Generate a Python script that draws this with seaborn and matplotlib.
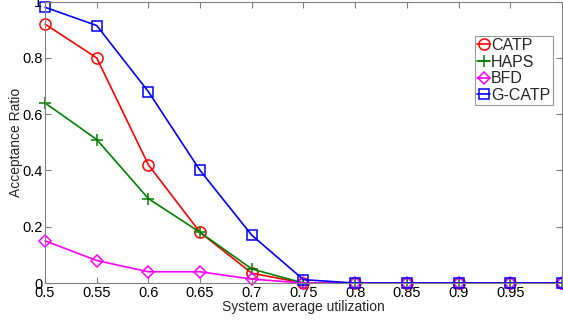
import matplotlib
matplotlib.use("Agg")
import matplotlib.pyplot as plt
import seaborn as sns
import pandas as pd

utilization = [0.5, 0.55, 0.6, 0.65, 0.7, 0.75, 0.8, 0.85, 0.9, 0.95, 1.0]
catp = [0.92, 0.80, 0.42, 0.18, 0.035, 0.0, 0.0, 0.0, 0.0, 0.0, 0.0]
haps = [0.64, 0.51, 0.30, 0.18, 0.05, 0.0, 0.0, 0.0, 0.0, 0.0, 0.0]
bfd = [0.15, 0.08, 0.04, 0.04, 0.014, 0.0, 0.0, 0.0, 0.0, 0.0, 0.0]
gcatp = [0.98, 0.915, 0.68, 0.40, 0.17, 0.012, 0.0, 0.0, 0.0, 0.0, 0.0]
x_ticks = [0.5, 0.55, 0.6, 0.65, 0.7, 0.75, 0.8, 0.85, 0.9, 0.95]
y_ticks = [0, 0.2, 0.4, 0.6, 0.8, 1]

sns.set_theme(style="white")
plt.rcParams["font.family"] = ["Liberation Sans", "DejaVu Sans"]

fig = plt.figure(figsize=(5.63, 3.22), dpi=100)
ax = fig.add_axes([0.08, 0.121, 0.918, 0.874])

series = [
    ("CATP", catp, (1, 0, 0), "o", 8),
    ("HAPS", haps, (0, 0.5, 0), "+", 9),
    ("BFD", bfd, (1, 0, 1), "D", 6.5),
    ("G-CATP", gcatp, (0, 0, 1), "s", 7.5),
]

for name, vals, color, marker, ms in series:
    df = pd.DataFrame({"u": utilization, "r": vals})
    sns.lineplot(data=df, x="u", y="r", ax=ax, color=color, marker=marker,
                 markersize=ms, markerfacecolor="none", markeredgecolor=color,
                 markeredgewidth=1.1, linewidth=1.2, label=name, clip_on=False)

ax.set_xlim(0.5, 1.0)
ax.set_ylim(0, 1.0)
ax.set_xticks(x_ticks)
ax.set_xticklabels([f"{t:g}" for t in x_ticks])
ax.set_yticks(y_ticks)
ax.set_yticklabels([f"{t:g}" for t in y_ticks])
ax.tick_params(direction="in", length=4, width=0.8, color="#808080",
               labelsize=10.5, labelcolor="black", top=True, right=True,
               bottom=True, left=True, pad=2)
for sp in ax.spines.values():
    sp.set_color("#808080")
    sp.set_linewidth(0.8)

ax.set_xlabel("System average utilization", fontsize=10, labelpad=0)
ax.set_ylabel("Acceptance Ratio", fontsize=10, labelpad=-1)

leg = ax.legend(loc="upper right", bbox_to_anchor=(0.982, 0.879), fontsize=11.5,
                frameon=True, fancybox=False, edgecolor="#808080",
                handlelength=0.8, handletextpad=0.05, borderpad=0.15,
                labelspacing=0.1, borderaxespad=0)
leg.get_frame().set_linewidth(0.8)

fig.savefig("out.png", dpi=100)
